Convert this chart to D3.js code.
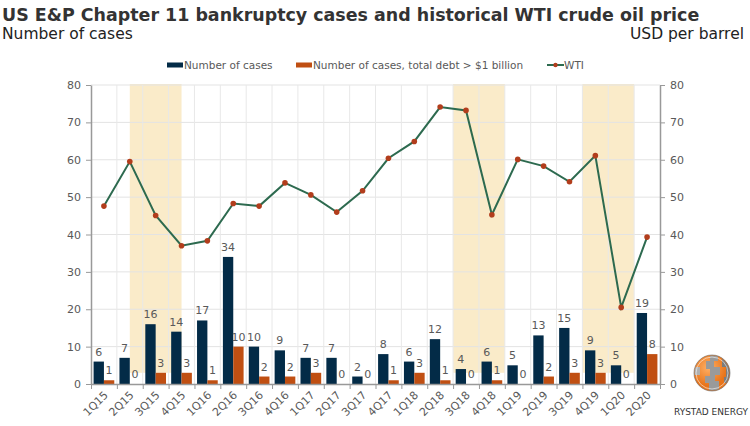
<!DOCTYPE html>
<html>
<head>
<meta charset="utf-8">
<script src="https://cdn.jsdelivr.net/npm/d3@7"></script>
<style>
  body { margin: 0; background: #fff; }
  text { font-family: "DejaVu Sans", Verdana, sans-serif; }
</style>
</head>
<body>
<div id="chart"></div>
<script>
// quarterly data, 1Q15 - 2Q20
const quarters = ['1Q15', '2Q15', '3Q15', '4Q15', '1Q16', '2Q16', '3Q16', '4Q16', '1Q17', '2Q17', '3Q17',
  '4Q17', '1Q18', '2Q18', '3Q18', '4Q18', '1Q19', '2Q19', '3Q19', '4Q19', '1Q20', '2Q20']
const cases = [6, 7, 16, 14, 17, 34, 10, 9, 7, 7, 2, 8, 6, 12, 4, 6, 5, 13, 15, 9, 5, 19]
const casesBigDebt = [1, 0, 3, 3, 1, 10, 2, 2, 3, 0, 0, 1, 3, 1, 0, 1, 0, 2, 3, 3, 0, 8]
const wti = [47.6, 59.5, 45.1, 37.0, 38.3, 48.3, 47.6, 53.8, 50.6, 46.0, 51.7, 60.4, 64.9, 74.1, 73.2, 45.3,
  60.1, 58.3, 54.1, 61.1, 20.5, 39.3]
// shaded periods, in quarter-index units, and the level the shading starts from
const shadePeriods = [[1.5, 3.5], [14, 16], [19, 21]]
const shadeFloor = 3
const yTicks = [0, 10, 20, 30, 40, 50, 60, 70, 80]

const width = 750
const height = 426
const margin = { top: 85, right: 90, bottom: 42, left: 91 }
const aWidth = width - margin.left - margin.right
const aHeight = height - margin.top - margin.bottom

const colors = { cases: '#032b47', big: '#c04f12', line: '#2d6a4f', dot: '#b23d1c', shade: '#faebc9' }
const textGrey = '#595959'

const svg = d3.select('#chart').append('svg')
  .attr('width', width)
  .attr('height', height)

// titles
const title = svg.append('text')
  .attr('x', 2).attr('y', 21)
  .attr('font-family', '"DejaVu Sans Condensed", "DejaVu Sans", sans-serif')
  .attr('font-size', 17).attr('font-weight', 'bold').attr('fill', '#333')
  .text('US E&P Chapter 11 bankruptcy cases and historical WTI crude oil price')
const tw = title.node().getComputedTextLength()
title.attr('font-size', 17 * 698 / tw)

svg.append('text')
  .attr('x', 2).attr('y', 39)
  .attr('font-size', 15.5).attr('fill', '#222')
  .text('Number of cases')
svg.append('text')
  .attr('x', 744).attr('y', 39)
  .attr('text-anchor', 'end')
  .attr('font-size', 15.5).attr('fill', '#222')
  .text('USD per barrel')

const g = svg.append('g')
  .attr('transform', `translate(${margin.left}, ${margin.top})`)

const x = d3.scaleBand()
  .domain(quarters)
  .range([0, aWidth])
const xi = d3.scaleLinear()
  .domain([0, quarters.length])
  .range([0, aWidth])
const x1 = d3.scaleBand()
  .domain(['cases', 'big'])
  .range([0, x.bandwidth()])
  .paddingOuter(0.25)
const y = d3.scaleLinear()
  .domain([0, 80])
  .range([aHeight, 0])

// shaded periods
g.selectAll('.shade')
  .data(shadePeriods)
  .enter().append('rect')
  .attr('class', 'shade')
  .attr('x', d => xi(d[0]))
  .attr('width', d => xi(d[1]) - xi(d[0]))
  .attr('y', y(80) - 1)
  .attr('height', y(shadeFloor) - y(80) + 1)
  .attr('fill', colors.shade)

// gridlines
g.selectAll('.hgrid')
  .data(yTicks.slice(1))
  .enter().append('line')
  .attr('class', 'hgrid')
  .attr('x1', 0).attr('x2', aWidth)
  .attr('y1', d => y(d)).attr('y2', d => y(d))
  .attr('stroke', '#e3e3e3')
g.selectAll('.vgrid')
  .data(d3.range(1, quarters.length))
  .enter().append('line')
  .attr('class', 'vgrid')
  .attr('x1', d => xi(d)).attr('x2', d => xi(d))
  .attr('y1', y(80)).attr('y2', y(0))
  .attr('stroke', '#e8e8e8')

// bars
const groups = g.selectAll('.grp')
  .data(quarters.map((q, i) => ({ q, cases: cases[i], big: casesBigDebt[i] })))
  .enter().append('g')
  .attr('class', 'grp')
  .attr('transform', d => `translate(${x(d.q)}, 0)`)

const keys = ['cases', 'big']
groups.selectAll('rect')
  .data(d => keys.map(k => ({ k, v: d[k] })))
  .enter().append('rect')
  .attr('x', d => x1(d.k))
  .attr('width', x1.bandwidth())
  .attr('y', d => y(d.v))
  .attr('height', d => y(0) - y(d.v))
  .attr('fill', d => colors[d.k])

groups.selectAll('.lbl')
  .data(d => keys.map(k => ({ k, v: d[k] })))
  .enter().append('text')
  .attr('class', 'lbl')
  .attr('x', d => x1(d.k) + x1.bandwidth() / 2)
  .attr('y', d => y(d.v) - 6)
  .attr('text-anchor', 'middle')
  .attr('font-size', 11)
  .attr('fill', textGrey)
  .text(d => d.v)

// axes
const axisStyle = sel => {
  sel.select('.domain').attr('stroke', '#999').attr('stroke-width', 1.5)
  sel.selectAll('.tick line').attr('stroke', '#999')
  sel.selectAll('.tick text').attr('fill', textGrey).attr('font-size', 11)
    .attr('font-family', '"DejaVu Sans", Verdana, sans-serif')
}

g.append('g')
  .call(d3.axisLeft(y).tickValues(yTicks).tickSize(5).tickSizeOuter(0).tickPadding(5))
  .call(axisStyle)

g.append('g')
  .attr('transform', `translate(${aWidth}, 0)`)
  .call(d3.axisRight(y).tickValues(yTicks).tickSize(5).tickSizeOuter(0).tickPadding(5))
  .call(axisStyle)

const xAxis = g.append('g')
  .attr('transform', `translate(0, ${aHeight})`)
  .call(d3.axisBottom(xi).tickValues(d3.range(0, quarters.length + 1)).tickSize(5).tickSizeOuter(0).tickFormat(''))
  .call(axisStyle)

xAxis.selectAll('.qlabel')
  .data(quarters)
  .enter().append('text')
  .attr('class', 'qlabel')
  .attr('transform', d => `translate(${x(d) + x.bandwidth() / 2 + 2}, 9) rotate(-45)`)
  .attr('text-anchor', 'end')
  .attr('dy', '0.35em')
  .attr('font-size', 11)
  .attr('fill', textGrey)
  .text(d => d)

// WTI line
const line = d3.line()
  .x((d, i) => x(quarters[i]) + x.bandwidth() / 2)
  .y(d => y(d))

g.append('path')
  .datum(wti)
  .attr('d', line)
  .attr('fill', 'none')
  .attr('stroke', colors.line)
  .attr('stroke-width', 2)

g.selectAll('.dot')
  .data(wti)
  .enter().append('circle')
  .attr('class', 'dot')
  .attr('cx', (d, i) => x(quarters[i]) + x.bandwidth() / 2)
  .attr('cy', d => y(d))
  .attr('r', 2.8)
  .attr('fill', colors.dot)

// legend
const legend = svg.append('g').attr('font-size', 10.5).attr('fill', textGrey)
const legendItems = [
  { label: 'Number of cases', type: 'bar', color: colors.cases, x: 167 },
  { label: 'Number of cases, total debt > $1 billion', type: 'bar', color: colors.big, x: 296 },
  { label: 'WTI', type: 'line', color: colors.line, x: 547 }
]
legendItems.forEach(it => {
  const lg = legend.append('g').attr('transform', `translate(${it.x}, 65)`)
  if (it.type === 'bar') {
    lg.append('rect').attr('x', 0).attr('y', -2.5).attr('width', 16).attr('height', 5).attr('fill', it.color)
  } else {
    lg.append('line').attr('x1', 0).attr('x2', 17).attr('y1', 0).attr('y2', 0)
      .attr('stroke', it.color).attr('stroke-width', 2)
    lg.append('circle').attr('cx', 8.5).attr('cy', 0).attr('r', 2.2).attr('fill', colors.dot)
  }
  lg.append('text').attr('x', 17).attr('dy', '0.35em').text(it.label)
})

// logo
const logo = svg.append('g').attr('transform', 'translate(712, 373)')
const defs = svg.append('defs')
const grad = defs.append('radialGradient').attr('id', 'globe').attr('cx', '40%').attr('cy', '35%')
grad.append('stop').attr('offset', '0%').attr('stop-color', '#ffb066')
grad.append('stop').attr('offset', '100%').attr('stop-color', '#e8741a')
defs.append('clipPath').attr('id', 'globeClip')
  .append('circle').attr('r', 17.5)
logo.append('circle').attr('r', 18).attr('fill', 'url(#globe)')
const patches = logo.append('g').attr('clip-path', 'url(#globeClip)')
patches.append('path')
  .attr('d', 'M-2,-18 L6,-18 L6,-12 L2,-12 L2,-6 L8,-6 L8,2 L3,2 L3,8 L7,8 L7,18 L-3,18 L-3,10 L-7,10 L-7,3 L-2,3 L-2,-4 L-6,-4 L-6,-12 L-2,-12 Z')
  .attr('fill', '#9a9a9a')
patches.append('path')
  .attr('d', 'M10,-14 L18,-14 L18,10 L12,10 L12,4 L14,4 L14,-6 L10,-6 Z')
  .attr('fill', '#7c7c7c')
patches.append('path')
  .attr('d', 'M-18,-6 L-12,-6 L-12,2 L-18,2 Z')
  .attr('fill', '#b0b0b0')
patches.append('circle').attr('r', 16).attr('fill', 'none').attr('stroke', '#fff').attr('stroke-width', 0.8).attr('opacity', 0.7)
logo.append('circle').attr('r', 18).attr('fill', 'none').attr('stroke', '#666').attr('stroke-width', 0.6)
svg.append('text')
  .attr('x', 711).attr('y', 415)
  .attr('text-anchor', 'middle')
  .attr('font-size', 9).attr('fill', '#333')
  .text('RYSTAD ENERGY')
</script>
</body>
</html>
